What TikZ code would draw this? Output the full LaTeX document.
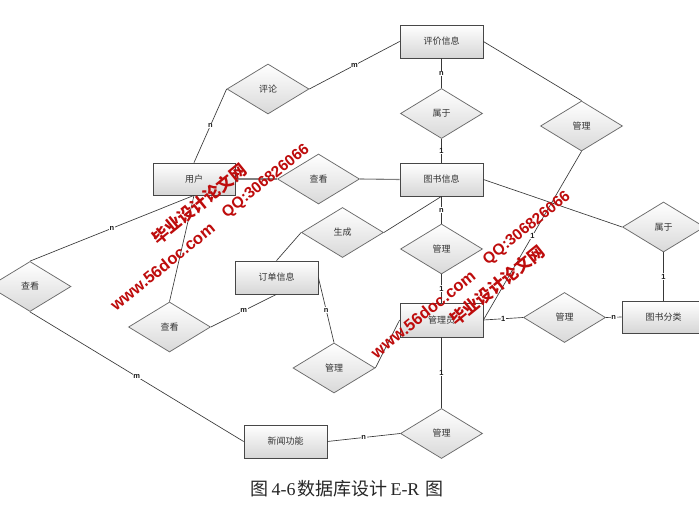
\documentclass[tikz,border=0pt]{standalone}
\usepackage{fontspec}
\setmainfont{Liberation Sans}
\newfontfamily\cjk{Noto Sans CJK SC}
\newfontfamily\serifl{Liberation Serif}
\usetikzlibrary{shapes.geometric,shadows,calc}
\definecolor{wm}{RGB}{190,12,12}
\begin{document}
\begin{tikzpicture}[x=1pt,y=-1pt,
  ent/.style={draw=black!72, line width=0.75pt, rectangle, minimum width=83pt, minimum height=33pt,
    top color=white, bottom color=black!16,
    drop shadow={shadow xshift=1.2pt, shadow yshift=-1.2pt, opacity=0.3},
    font=\cjk\fontsize{9}{10}\selectfont, text=black!80},
  rel/.style={draw=black!58, line width=0.75pt, diamond, minimum width=82pt, minimum height=50pt,
    inner sep=0pt, top color=white, bottom color=black!15,
    font=\cjk\fontsize{9}{10}\selectfont, text=black!80},
  ln/.style={draw=black!78, line width=0.65pt},
  lnb/.style={draw=black!50, line width=1.1pt},
  lbl/.style={fill=white, inner sep=0.6pt, font=\fontsize{7.5}{8}\selectfont\bfseries, text=black!90},
  wmt/.style={text=wm, rotate=39, inner sep=0pt}
]
\useasboundingbox (0,0) rectangle (699,518);
\fill[white] (0,0) rectangle (699,518);
\clip (0,0) rectangle (699,518);

% entities
\node[ent] (pj)  at (441.5,41.5)  {评价信息};
\node[ent] (ts)  at (441.5,179.5) {图书信息};
\node[ent, minimum width=82pt, minimum height=32pt] (yh) at (194,179) {用户};
\node[ent] (dd)  at (276.5,277.5) {订单信息};
\node[ent, minimum height=34pt] (gly) at (441.5,320) {管理员};
\node[ent, minimum height=32pt] (fl)  at (663.5,317) {图书分类};
\node[ent] (xw)  at (285.5,441.5) {新闻功能};

% relationships
\node[rel] (pl)  at (268,89)      {评论};
\node[rel] (sy1) at (441.5,113.5) {属于};
\node[rel] (ck1) at (318.5,179)   {查看};
\node[rel] (gl1) at (581.5,126)   {管理};
\node[rel] (sy2) at (663.5,227)   {属于};
\node[rel] (sc)  at (342.5,232.5) {生成};
\node[rel] (gl2) at (441.5,249)   {管理};
\node[rel] (ck2) at (169.5,327)   {查看};
\node[rel] (ck3) at (30,286.5)    {查看};
\node[rel] (gl3) at (334,368)     {管理};
\node[rel] (gl4) at (564.5,317.5) {管理};
\node[rel] (gl5) at (441.5,433.5) {管理};

% connectors
\draw[ln] (yh.north) -- node[lbl]{n} (pl.west);
\draw[ln] (pl.east) -- node[lbl]{m} (pj.west);
\draw[ln] (pj.south) -- node[lbl]{n} (sy1.north);
\draw[ln] (sy1.south) -- node[lbl]{1} (ts.north);
\draw[ln] (pj.east) -- (gl1.north);
\draw[ln] (gl1.south) -- node[lbl]{1} (gly.east);
\draw[lnb] (yh.east) -- (ck1.west);
\draw[lnb] (ck1.east) -- (ts.west);
\draw[ln] (ts.east) -- (sy2.west);
\draw[ln] (sy2.south) -- node[lbl]{1} (fl.north);
\draw[ln] (ts.south) -- node[lbl]{n} (gl2.north);
\draw[ln] (gl2.south) -- node[lbl]{1} (gly.north);
\draw[ln] (ts.south) -- (sc.east);
\draw[ln] (sc.west) -- (dd.north);
\draw[ln] (dd.east) -- node[lbl]{n} (gl3.north);
\draw[ln] (gl3.east) -- (gly.west);
\draw[ln] (gly.south) -- node[lbl]{1} (gl5.north);
\draw[ln] (gl5.west) -- node[lbl]{n} (xw.east);
\draw[ln] (ck3.south) -- node[lbl]{m} (xw.west);
\draw[ln] (ck3.north) -- node[lbl]{n} (yh.south);
\draw[ln] (yh.south) -- (ck2.north);
\draw[ln] (ck2.east) -- node[lbl]{m} (dd.south);
\draw[ln] (gly.east) -- node[lbl]{1} (gl4.west);
\draw[ln] (gl4.east) -- node[lbl]{n} (fl.west);

% caption
\node[text=black!85, font=\fontsize{18}{20}\selectfont] (cap) at (347,489)
  {\cjk 图\hspace{3pt}\serifl 4-6\hspace{2pt}\cjk 数据库设计\hspace{3pt}\serifl E-R\hspace{6pt}\cjk 图};

% watermarks
\node[wmt, font=\cjk\bfseries\fontsize{16.5}{17}\selectfont] (wa1) at (199,204) {毕业设计论文网};
\node[wmt, font=\bfseries\fontsize{16.5}{17}\selectfont] (wa2) at (162.5,266.5) {www.56doc.com};
\node[wmt, font=\bfseries\fontsize{15.5}{16}\selectfont] (wa3) at (266,181.5) {QQ:306826066};
\node[wmt, font=\cjk\bfseries\fontsize{16.5}{17}\selectfont] (wb1) at (497,285.5) {毕业设计论文网};
\node[wmt, font=\bfseries\fontsize{16.5}{17}\selectfont] (wb2) at (423,314) {www.56doc.com};
\node[wmt, font=\bfseries\fontsize{15.5}{16}\selectfont] (wb3) at (527,228.5) {QQ:306826066};
\end{tikzpicture}
\end{document}
